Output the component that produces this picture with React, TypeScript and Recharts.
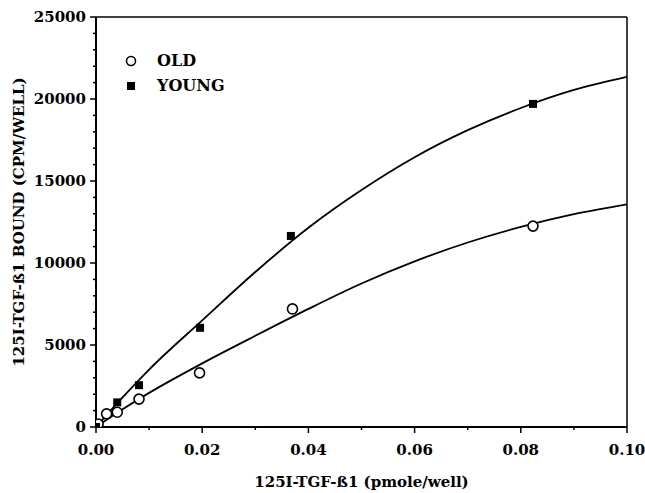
import { ComposedChart, Line, Scatter, XAxis, YAxis, ReferenceLine } from 'recharts'

// measured points
const OLD_X = [0, 0.0004, 0.002, 0.004, 0.0081, 0.0195, 0.037, 0.0823]
const OLD_Y = [0, 180, 800, 900, 1700, 3300, 7200, 12250]
const YOUNG_X = [0, 0.004, 0.0081, 0.0196, 0.0367, 0.0823]
const YOUNG_Y = [0, 1500, 2550, 6050, 11650, 19700]

// fitted curves
const FIT_X = [0, 0.005, 0.01, 0.02, 0.03, 0.04, 0.05, 0.06, 0.07, 0.08, 0.09, 0.1]
const OLD_FIT = [0, 1080, 2080, 3880, 5560, 7200, 8750, 10100, 11250, 12200, 12980, 13580]
const YOUNG_FIT = [0, 1800, 3500, 6500, 9450, 12150, 14450, 16450, 18100, 19450, 20550, 21350]

const X_TICKS = [0, 0.01, 0.02, 0.03, 0.04, 0.05, 0.06, 0.07, 0.08, 0.09, 0.1]
const X_LABELED = [0, 0.02, 0.04, 0.06, 0.08, 0.1]
const Y_TICKS = [
  0, 1000, 2000, 3000, 4000, 5000, 6000, 7000, 8000, 9000, 10000, 11000, 12000,
  13000, 14000, 15000, 16000, 17000, 18000, 19000, 20000, 21000, 22000, 23000, 24000, 25000,
]
const Y_LABELED = [0, 5000, 10000, 15000, 20000, 25000]

const FONT = '"DejaVu Serif", serif'

const toPts = (xs: number[], ys: number[]) => xs.map((x, i) => ({ x, y: ys[i] }))
const isLabeled = (list: number[], v: number) => list.some(t => Math.abs(t - v) < 1e-9)

function XTick({ x, y, payload }: any) {
  const major = isLabeled(X_LABELED, payload.value)
  return (
    <g>
      <line x1={x} x2={x} y1={y} y2={y + (major ? 6 : 3)} stroke="#000" strokeWidth={1.5} />
      {major && (
        <text x={x} y={y + 28} textAnchor="middle" fontSize={15} fontWeight="bold" fontFamily={FONT} fill="#000">
          {payload.value.toFixed(2)}
        </text>
      )}
    </g>
  )
}

function YTick({ x, y, payload }: any) {
  const major = isLabeled(Y_LABELED, payload.value)
  return (
    <g>
      <line x1={x} x2={x - (major ? 6 : 3)} y1={y} y2={y} stroke="#000" strokeWidth={1.5} />
      {major && (
        <text x={x - 10} y={y + 5} textAnchor="end" fontSize={15} fontWeight="bold" fontFamily={FONT} fill="#000">
          {payload.value}
        </text>
      )}
    </g>
  )
}

const OpenCircle = ({ cx, cy }: any) => (
  <circle cx={cx} cy={cy} r={5} fill="#fff" stroke="#000" strokeWidth={1.6} />
)
const FilledSquare = ({ cx, cy }: any) => (
  <rect x={cx - 4} y={cy - 4} width={8} height={8} fill="#000" />
)

function LegendBox() {
  const row = { display: 'flex', alignItems: 'center', height: 25 }
  const txt = { marginLeft: 17, fontFamily: FONT, fontWeight: 'bold', fontSize: 16, color: '#000' }
  return (
    <div style={{ position: 'absolute', left: 122, top: 48 }}>
      <div style={row}>
        <svg width={18} height={24}><circle cx={9} cy={12} r={4.5} fill="#fff" stroke="#000" strokeWidth={1.6} /></svg>
        <span style={txt}>OLD</span>
      </div>
      <div style={row}>
        <svg width={18} height={24}><rect x={5} y={8} width={8} height={8} fill="#000" /></svg>
        <span style={txt}>YOUNG</span>
      </div>
    </div>
  )
}

export default function App() {
  return (
    <div style={{ position: 'absolute', left: 0, top: 0, width: 645, height: 493, background: '#fff' }}>
      <ComposedChart width={645} height={493} margin={{ top: 17, right: 18, left: 0, bottom: 0 }}>
        <XAxis
          dataKey="x"
          type="number"
          domain={[0, 0.1]}
          ticks={X_TICKS}
          interval={0}
          tickLine={false}
          tickSize={0}
          tickMargin={0}
          tick={<XTick />}
          axisLine={{ stroke: '#000', strokeWidth: 2 }}
          height={66}
          allowDataOverflow
          label={{
            value: '125I-TGF-ß1 (pmole/well)', position: 'insideBottom', offset: 6,
            style: { fontSize: 15, fontWeight: 'bold', fontFamily: FONT, fill: '#000' },
          }}
        />
        <YAxis
          type="number"
          domain={[0, 25000]}
          ticks={Y_TICKS}
          interval={0}
          tickLine={false}
          tickSize={0}
          tickMargin={0}
          tick={<YTick />}
          axisLine={{ stroke: '#000', strokeWidth: 2 }}
          width={96}
          allowDataOverflow
          label={{
            value: '125I-TGF-ß1 BOUND (CPM/WELL)', angle: -90, position: 'insideLeft', offset: 19,
            style: { fontSize: 15, fontWeight: 'bold', fontFamily: FONT, fill: '#000', textAnchor: 'middle' },
          }}
        />
        <ReferenceLine y={25000} stroke="#000" strokeWidth={1.5} />
        <ReferenceLine x={0.1} stroke="#000" strokeWidth={1.5} />
        <Line data={toPts(FIT_X, OLD_FIT)} dataKey="y" type="monotone" stroke="#000" strokeWidth={1.8} dot={false} isAnimationActive={false} />
        <Line data={toPts(FIT_X, YOUNG_FIT)} dataKey="y" type="monotone" stroke="#000" strokeWidth={1.8} dot={false} isAnimationActive={false} />
        <Scatter name="OLD" data={toPts(OLD_X, OLD_Y)} dataKey="y" shape={<OpenCircle />} isAnimationActive={false} />
        <Scatter name="YOUNG" data={toPts(YOUNG_X, YOUNG_Y)} dataKey="y" shape={<FilledSquare />} isAnimationActive={false} />
      </ComposedChart>
      <LegendBox />
    </div>
  )
}
